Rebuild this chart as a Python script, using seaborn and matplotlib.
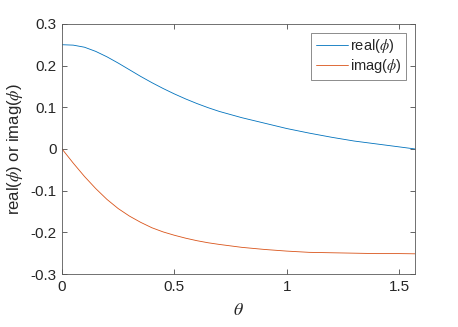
import numpy as np
import pandas as pd
import seaborn as sns
import matplotlib.pyplot as plt

# values
theta = [0, 0.05, 0.1, 0.15, 0.2, 0.25, 0.3, 0.35, 0.4, 0.45, 0.5, 0.55,
         0.6, 0.65, 0.7, 0.8, 0.9, 1.0, 1.1, 1.2, 1.3, 1.4, 1.5, 1.5708]
real_phi = [0.250, 0.249, 0.244, 0.234, 0.221, 0.206, 0.190, 0.174, 0.159,
            0.145, 0.132, 0.120, 0.109, 0.099, 0.090, 0.075, 0.062, 0.049,
            0.038, 0.028, 0.019, 0.012, 0.005, 0.0]
imag_phi = [0.0, -0.034, -0.066, -0.095, -0.121, -0.143, -0.161, -0.176,
            -0.189, -0.199, -0.207, -0.214, -0.220, -0.225, -0.229, -0.236,
            -0.241, -0.245, -0.248, -0.249, -0.250, -0.251, -0.251, -0.2515]
labels = [r"real($\phi$)", r"imag($\phi$)"]
xticks = [0, 0.5, 1, 1.5]
xticklabels = ["0", "0.5", "1", "1.5"]
yticks = [-0.3, -0.2, -0.1, 0, 0.1, 0.2, 0.3]
yticklabels = ["-0.3", "-0.2", "-0.1", "0", "0.1", "0.2", "0.3"]

df = pd.DataFrame({
    "theta": theta * 2,
    "value": real_phi + imag_phi,
    "part": [labels[0]] * len(theta) + [labels[1]] * len(theta),
})

sns.set_style("ticks")
plt.rcParams["font.family"] = ["Liberation Sans", "DejaVu Sans"]
plt.rcParams["mathtext.fontset"] = "stix"
plt.rcParams["axes.unicode_minus"] = False

fig = plt.figure(figsize=(4.58, 3.27), dpi=100)
ax = fig.add_axes([0.1354, 0.162, 0.7706, 0.765])

sns.lineplot(data=df, x="theta", y="value", hue="part",
             palette=["#0072BD", "#D95319"], linewidth=0.6, ax=ax)

ax.set_xlim(0, np.pi / 2)
ax.set_ylim(-0.3, 0.3)
ax.set_xticks(xticks)
ax.set_xticklabels(xticklabels)
ax.set_yticks(yticks)
ax.set_yticklabels(yticklabels)
ax.tick_params(direction="in", length=3.5, width=0.5, colors="0.15",
               labelsize=11, top=True, right=True, pad=4)
for s in ax.spines.values():
    s.set_linewidth(0.6)
    s.set_color("0.35")

ax.set_xlabel(r"$\theta$", fontsize=13, color="0.15", labelpad=6)
ax.set_ylabel(r"real($\phi$) or imag($\phi$)", fontsize=12, color="0.15",
              labelpad=4)

leg = ax.legend(loc="upper right", fontsize=10.5, frameon=True, fancybox=False,
                handlelength=2.2, handletextpad=0.15, borderpad=0.3,
                labelspacing=0.15, borderaxespad=0.6)
leg.get_frame().set_edgecolor("0.35")
leg.get_frame().set_linewidth(0.6)
for h in leg.get_lines():
    h.set_linewidth(0.6)

fig.savefig("out.png", dpi=100)
